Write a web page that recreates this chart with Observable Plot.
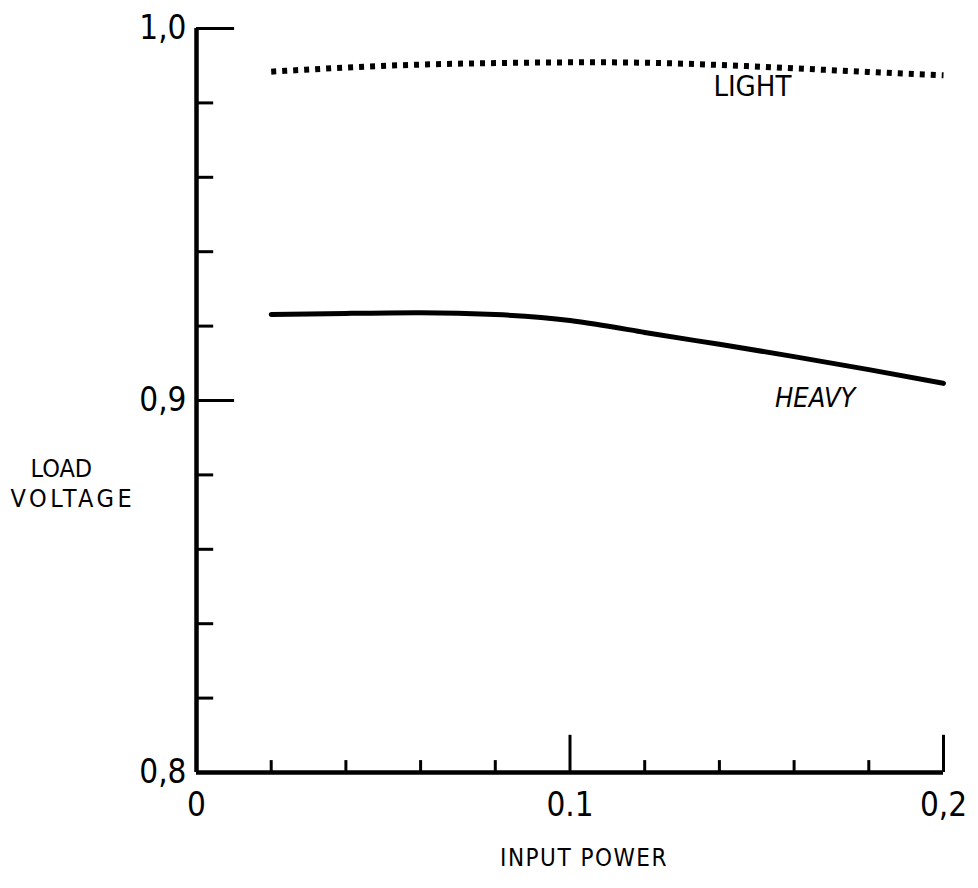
<!DOCTYPE html>
<html><head><meta charset="utf-8">
<script src="https://cdn.jsdelivr.net/npm/d3@7"></script>
<script src="https://cdn.jsdelivr.net/npm/@observablehq/plot@0.6"></script>
<style>
body{margin:0;background:#fff;}
#chart svg{display:block;}
</style></head><body><div id="chart"></div>
<script>
const inputPower = [0.02, 0.04, 0.06, 0.08, 0.10, 0.12, 0.14, 0.16, 0.18, 0.20];
const lightLoad  = [0.9884, 0.9895, 0.9903, 0.9907, 0.9909, 0.9908, 0.9902, 0.9893, 0.9883, 0.9874];
const heavyLoad  = [0.9231, 0.9234, 0.9236, 0.9231, 0.9215, 0.9183, 0.9151, 0.9118, 0.9083, 0.9046];
const seriesNames = ["LIGHT", "HEAVY"];

const xMinorTicks = [0.02, 0.04, 0.06, 0.08, 0.12, 0.14, 0.16, 0.18];
const xMajorTicks = [0.1, 0.2];
const xLabelTicks = [0, 0.1, 0.2];
const xTickLabels = ["0", "0.1", "0,2"];
const yMinorTicks = [0.82, 0.84, 0.86, 0.88, 0.92, 0.94, 0.96, 0.98];
const yMajorTicks = [0.9, 1.0];
const yLabelTicks = [0.8, 0.9, 1.0];
const yTickLabels = ["0,8", "0,9", "1,0"];
const xTitle = "INPUT POWER";
const yTitleLines = ["LOAD", "VOLTAGE"];

const rows = [];
inputPower.forEach((x, i) => {
  rows.push({x, v: lightLoad[i], series: seriesNames[0]});
  rows.push({x, v: heavyLoad[i], series: seriesNames[1]});
});
const lightRows = rows.filter(d => d.series === "LIGHT");
const heavyRows = rows.filter(d => d.series === "HEAVY");

const FONT = "'DejaVu Sans', sans-serif";

const chart = Plot.plot({
  width: 978,
  height: 888,
  marginLeft: 196,
  marginRight: 35,
  marginTop: 28,
  marginBottom: 116,
  style: {fontFamily: FONT, fontStretch: "condensed", color: "#000", background: "#fff", overflow: "visible"},
  x: {domain: [0, 0.2]},
  y: {domain: [0.8, 1.0]},
  marks: [
    Plot.ruleX([0], {y1: 0.8, y2: 1.0, strokeWidth: 4.5, stroke: "#000"}),
    Plot.ruleY([0.8], {x1: 0, x2: 0.2, strokeWidth: 4.5, stroke: "#000"}),
    Plot.ruleY(yMinorTicks, {x1: 0, x2: 0.0046, strokeWidth: 3, stroke: "#000"}),
    Plot.ruleY(yMajorTicks, {x1: 0, x2: 0.0102, strokeWidth: 3, stroke: "#000"}),
    Plot.ruleX(xMinorTicks, {y1: 0.8, y2: 0.8032, strokeWidth: 3, stroke: "#000"}),
    Plot.ruleX(xMajorTicks, {y1: 0.8, y2: 0.81, strokeWidth: 3, stroke: "#000"}),
    Plot.line(lightRows, {x: "x", y: "v", stroke: "#000", strokeWidth: 6, strokeDasharray: "5,6", strokeLinecap: "butt", curve: "natural"}),
    Plot.line(heavyRows, {x: "x", y: "v", stroke: "#000", strokeWidth: 5, curve: "natural"}),
    Plot.text(lightRows.filter(d => d.x === 0.14), {x: "x", y: "v", text: "series", textAnchor: "start", dx: -6, dy: 22, fontSize: 29, fill: "#000"}),
    Plot.text(heavyRows.filter(d => d.x === 0.16), {x: "x", y: "v", text: "series", textAnchor: "start", dx: -19, dy: 42, fontSize: 27, fontStyle: "italic", fill: "#000"}),
    Plot.axisX({ticks: xLabelTicks, tickSize: 0, tickPadding: 20, fontSize: 33, label: null,
      tickFormat: d => xTickLabels[xLabelTicks.indexOf(d)]}),
    Plot.axisY({ticks: yLabelTicks, tickSize: 0, tickPadding: 10, fontSize: 33, label: null,
      tickFormat: d => yTickLabels[yLabelTicks.indexOf(d)]}),
    Plot.text([xTitle], {frameAnchor: "bottom", textAnchor: "middle", dx: 14, dy: 93, fontSize: 24, fill: "#000"}),
    Plot.text([yTitleLines[0]], {frameAnchor: "left", textAnchor: "start", dx: -166, dy: 68, fontSize: 25, fill: "#000"}),
    Plot.text([yTitleLines[1]], {frameAnchor: "left", textAnchor: "start", dx: -186, dy: 98, fontSize: 25, fill: "#000"})
  ]
});
// letter spacing for the hand-lettered titles
d3.select(chart).selectAll("text").each(function() {
  const t = this.textContent;
  if (t === yTitleLines[1]) this.setAttribute("letter-spacing", "3.5");
  if (t === xTitle) this.setAttribute("letter-spacing", "1.5");
});
document.getElementById("chart").append(chart);
</script>
</body></html>
